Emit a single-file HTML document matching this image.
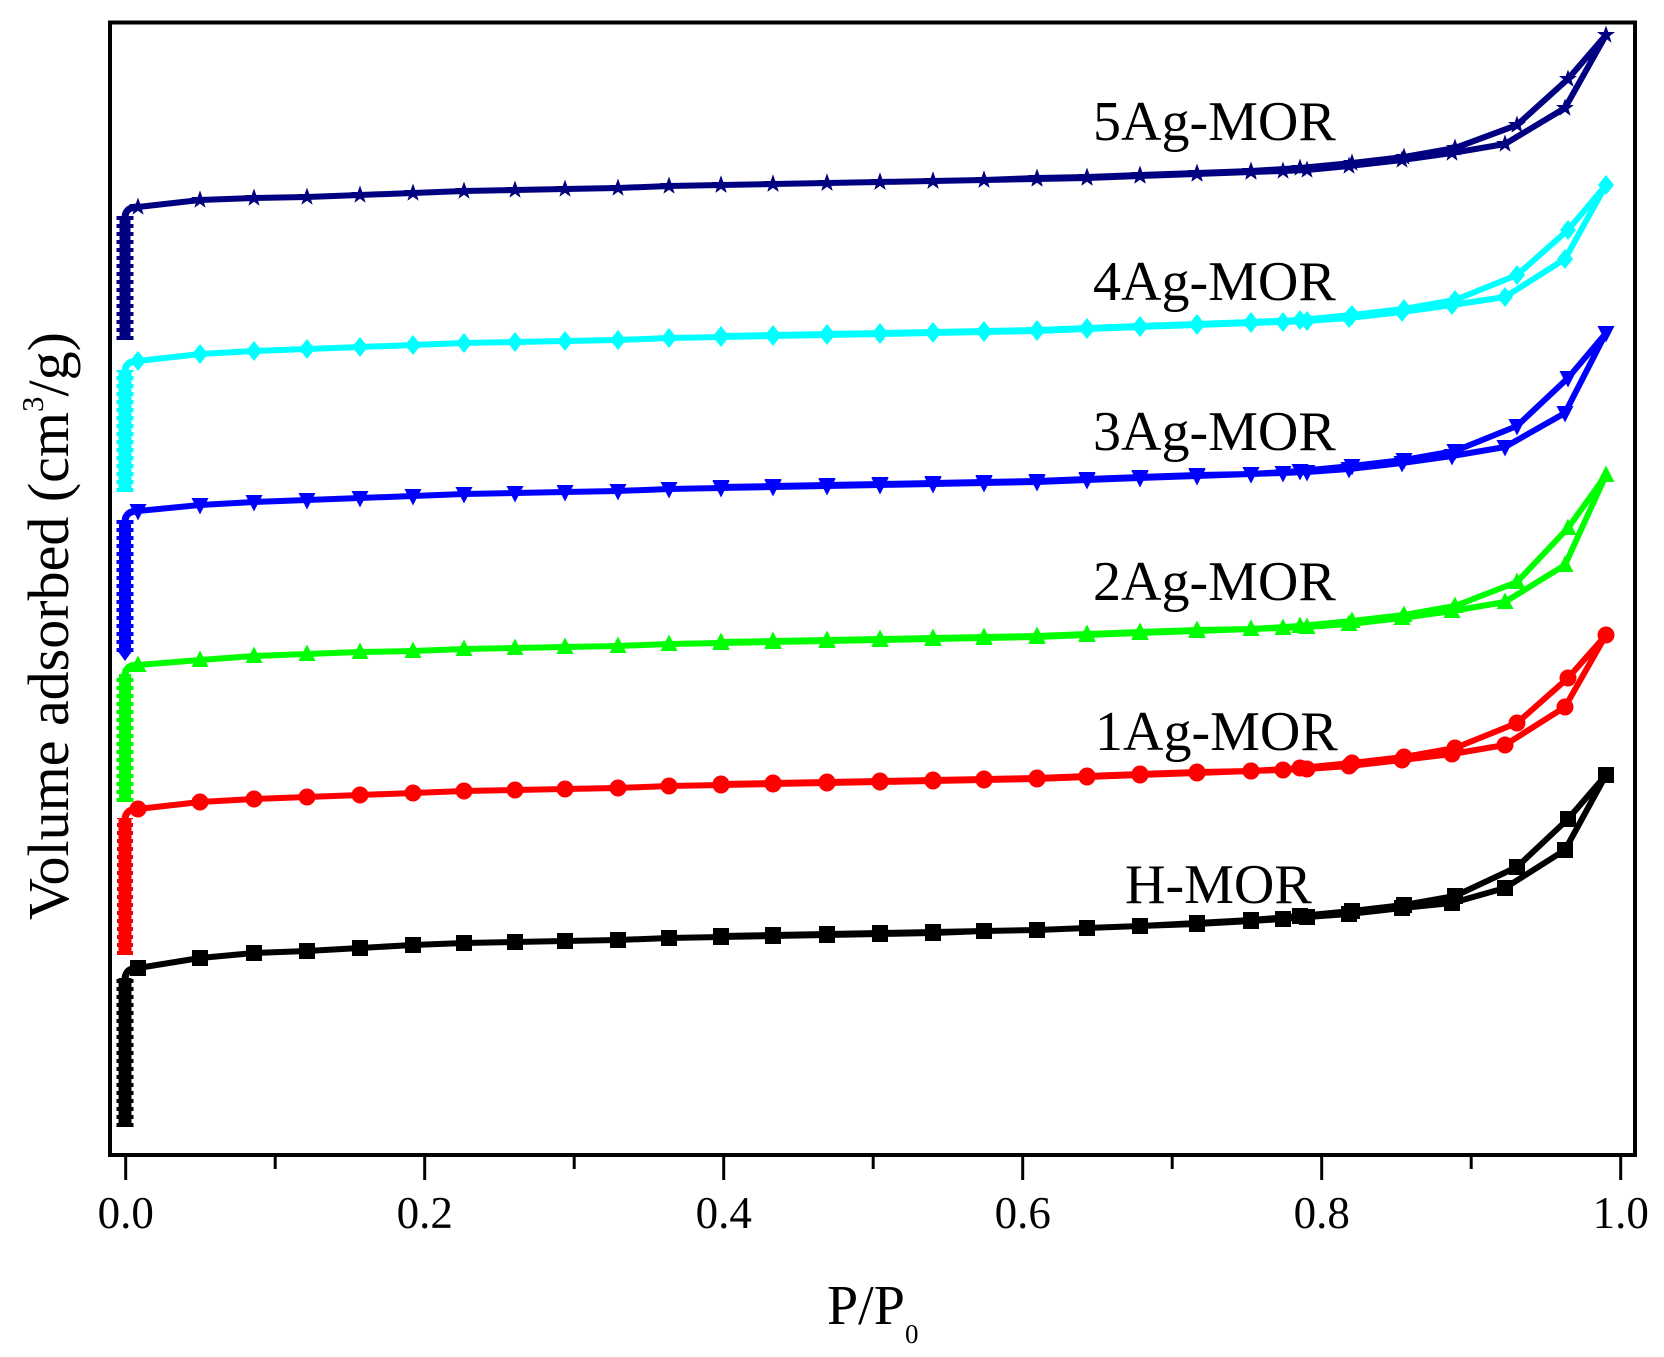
<!DOCTYPE html>
<html>
<head>
<meta charset="utf-8">
<style>
html,body{margin:0;padding:0;background:#fff;}
svg{display:block;}
text{font-family:"Liberation Serif","Times New Roman",serif;fill:#000;}
</style>
</head>
<body>
<svg width="1664" height="1357" viewBox="0 0 1664 1357" xmlns="http://www.w3.org/2000/svg">
<defs>
<marker id="mSq" markerUnits="userSpaceOnUse" markerWidth="16" markerHeight="16" refX="0" refY="0" overflow="visible"><rect x="-8" y="-8" width="16" height="16" fill="#000"/></marker>
<marker id="mCi" markerUnits="userSpaceOnUse" markerWidth="18" markerHeight="18" refX="0" refY="0" overflow="visible"><circle cx="0" cy="0" r="8.5" fill="#ff0000"/></marker>
<marker id="mTu" markerUnits="userSpaceOnUse" markerWidth="18" markerHeight="18" refX="0" refY="0" overflow="visible"><polygon points="0,-9.5 8.5,7 -8.5,7" fill="#00ff00"/></marker>
<marker id="mTd" markerUnits="userSpaceOnUse" markerWidth="18" markerHeight="18" refX="0" refY="0" overflow="visible"><polygon points="0,9.5 8.5,-7 -8.5,-7" fill="#0000ff"/></marker>
<marker id="mDi" markerUnits="userSpaceOnUse" markerWidth="18" markerHeight="18" refX="0" refY="0" overflow="visible"><polygon points="0,-10 8,0 0,10 -8,0" fill="#00ffff"/></marker>
<marker id="mSt" markerUnits="userSpaceOnUse" markerWidth="20" markerHeight="20" refX="0" refY="0" overflow="visible"><polygon points="0,-9.5 2.3,-3 9,-3 3.6,1.1 5.6,7.7 0,3.7 -5.6,7.7 -3.6,1.1 -9,-3 -2.3,-3" fill="#000080"/></marker>
</defs>

<!-- frame -->
<rect x="110" y="22.5" width="1525" height="1132.5" fill="none" stroke="#000" stroke-width="4"/>

<!-- ticks -->
<g stroke="#000" stroke-width="3">
<line x1="125.7" y1="1157" x2="125.7" y2="1180"/>
<line x1="275.2" y1="1157" x2="275.2" y2="1169"/>
<line x1="424.7" y1="1157" x2="424.7" y2="1180"/>
<line x1="574.2" y1="1157" x2="574.2" y2="1169"/>
<line x1="723.7" y1="1157" x2="723.7" y2="1180"/>
<line x1="873.2" y1="1157" x2="873.2" y2="1169"/>
<line x1="1022.7" y1="1157" x2="1022.7" y2="1180"/>
<line x1="1172.2" y1="1157" x2="1172.2" y2="1169"/>
<line x1="1321.7" y1="1157" x2="1321.7" y2="1180"/>
<line x1="1471.2" y1="1157" x2="1471.2" y2="1169"/>
<line x1="1620.7" y1="1157" x2="1620.7" y2="1180"/>
</g>

<!-- tick labels -->
<g font-size="45" text-anchor="middle">
<text x="125.7" y="1228">0.0</text>
<text x="424.7" y="1228">0.2</text>
<text x="723.7" y="1228">0.4</text>
<text x="1022.7" y="1228">0.6</text>
<text x="1321.7" y="1228">0.8</text>
<text x="1620.7" y="1228">1.0</text>
</g>

<!-- axis titles -->
<text x="827" y="1324" font-size="56">P/P</text>
<text x="905" y="1343" font-size="27">0</text>
<text transform="translate(68,626) rotate(-90)" font-size="58" text-anchor="middle">Volume adsorbed (cm<tspan font-size="31" dy="-25">3</tspan><tspan dy="25">/g)</tspan></text>

<!-- curve labels -->
<g font-size="56">
<text x="1093" y="140">5Ag-MOR</text>
<text x="1093" y="300">4Ag-MOR</text>
<text x="1093" y="450">3Ag-MOR</text>
<text x="1093" y="600">2Ag-MOR</text>
<text x="1095" y="750">1Ag-MOR</text>
<text x="1125" y="903">H-MOR</text>
</g>

<!-- H-MOR -->
<g stroke="#000" fill="none">
<line x1="125" y1="1127" x2="125" y2="978" stroke-width="13"/>
<line x1="125" y1="1127" x2="125" y2="978" stroke-width="17" stroke-dasharray="4 4"/>
<path d="M125,980 Q125,968 138,968" stroke-width="7"/>
<polyline stroke-width="6" stroke-linejoin="round" marker-start="url(#mSq)" marker-mid="url(#mSq)" marker-end="url(#mSq)" points="138,968 200,958 254,953 307,951 360,948 413,945 464,943 515,942 565,941 618,940 669,938 721,937 773,936 827,935 880,934 933,933 984,931 1037,930 1087,928 1140,926 1197,924 1251,921 1283,919 1307,917 1349,914 1402,908 1452,903 1505,888 1565,850 1606,775 1568,819 1517,867 1455,896 1404,905 1352,911 1300,916 1251,920 1197,923 1140,926 1087,928 1037,930 984,931 933,932 880,933 827,934 773,935 721,936"/>
</g>

<!-- 1Ag-MOR -->
<g stroke="#ff0000" fill="none">
<line x1="125" y1="955" x2="125" y2="818" stroke-width="13"/>
<line x1="125" y1="955" x2="125" y2="818" stroke-width="16" stroke-dasharray="4 4"/>
<path d="M125,820 Q125,809 138,809" stroke-width="7"/>
<polyline stroke-width="6" stroke-linejoin="round" marker-start="url(#mCi)" marker-mid="url(#mCi)" marker-end="url(#mCi)" points="138,809 200,802 254,799 307,797 360,795 413,793 464,791 515,790 565,789 618,788 669,786 721,785 773,784 827,783 880,782 933,781 984,780 1037,779 1087,777 1140,775 1197,773 1251,771 1283,770 1307,769 1349,766 1402,760 1452,754 1505,745 1565,707 1606,635 1568,678 1517,723 1455,748 1404,757 1352,763 1300,768 1251,771 1197,772 1140,774 1087,776 1037,778 984,779 933,780 880,781 827,782 773,783 721,784"/>
</g>

<!-- 2Ag-MOR -->
<g stroke="#00ff00" fill="none">
<line x1="125" y1="802" x2="125" y2="674" stroke-width="12"/>
<line x1="125" y1="802" x2="125" y2="674" stroke-width="17" stroke-dasharray="4 4"/>
<path d="M125,676 Q125,665 138,665" stroke-width="7"/>
<polyline stroke-width="6" stroke-linejoin="round" marker-start="url(#mTu)" marker-mid="url(#mTu)" marker-end="url(#mTu)" points="138,665 200,660 254,656 307,654 360,652 413,651 464,649 515,648 565,647 618,646 669,644 721,643 773,642 827,641 880,640 933,639 984,638 1037,637 1087,635 1140,633 1197,631 1251,629 1283,628 1307,627 1349,624 1402,618 1452,611 1505,602 1565,565 1606,475 1568,528 1517,582 1455,606 1404,615 1352,621 1300,626 1251,629 1197,630 1140,632 1087,634 1037,636 984,637 933,638 880,639 827,640 773,641 721,642"/>
</g>

<!-- 3Ag-MOR -->
<g stroke="#0000ff" fill="none">
<line x1="125" y1="652" x2="125" y2="520" stroke-width="12"/>
<line x1="125" y1="652" x2="125" y2="520" stroke-width="17" stroke-dasharray="4 4"/>
<polygon points="117,650 133,650 125,661" fill="#0000ff" stroke="none"/>
<path d="M125,522 Q125,511 138,511" stroke-width="7"/>
<polyline stroke-width="6" stroke-linejoin="round" marker-start="url(#mTd)" marker-mid="url(#mTd)" marker-end="url(#mTd)" points="138,511 200,505 254,502 307,500 360,498 413,496 464,494 515,493 565,492 618,491 669,489 721,488 773,487 827,486 880,485 933,484 984,483 1037,482 1087,480 1140,478 1197,476 1251,474 1283,473 1307,472 1349,469 1402,463 1452,456 1505,447 1565,413 1606,333 1568,378 1517,426 1455,451 1404,460 1352,466 1300,471 1251,474 1197,475 1140,477 1087,479 1037,481 984,482 933,483 880,484 827,485 773,486 721,487"/>
</g>

<!-- 4Ag-MOR -->
<g stroke="#00ffff" fill="none">
<line x1="125" y1="492" x2="125" y2="370" stroke-width="13"/>
<line x1="125" y1="492" x2="125" y2="370" stroke-width="17" stroke-dasharray="4 4"/>
<path d="M125,372 Q125,361 138,361" stroke-width="7"/>
<polyline stroke-width="6" stroke-linejoin="round" marker-start="url(#mDi)" marker-mid="url(#mDi)" marker-end="url(#mDi)" points="138,361 200,354 254,351 307,349 360,347 413,345 464,343 515,342 565,341 618,340 669,338 721,337 773,336 827,335 880,334 933,333 984,332 1037,331 1087,329 1140,327 1197,325 1251,323 1283,322 1307,321 1349,318 1402,312 1452,305 1505,297 1565,259 1606,185 1568,230 1517,275 1455,300 1404,309 1352,315 1300,320 1251,322 1197,324 1140,326 1087,328 1037,330 984,331 933,332 880,333 827,334 773,335 721,336"/>
</g>

<!-- 5Ag-MOR -->
<g stroke="#000080" fill="none">
<line x1="125" y1="340" x2="125" y2="216" stroke-width="11"/>
<line x1="125" y1="340" x2="125" y2="216" stroke-width="17" stroke-dasharray="4 4"/>
<path d="M125,218 Q125,207 138,207" stroke-width="7"/>
<polyline stroke-width="6" stroke-linejoin="round" marker-start="url(#mSt)" marker-mid="url(#mSt)" marker-end="url(#mSt)" points="138,207 200,200 254,198 307,197 360,195 413,193 464,191 515,190 565,189 618,188 669,186 721,185 773,184 827,183 880,182 933,181 984,180 1037,179 1087,178 1140,176 1197,174 1251,172 1283,171 1307,170 1349,166 1402,160 1452,153 1505,144 1565,108 1606,35 1568,79 1517,125 1455,148 1404,157 1352,163 1300,168 1251,171 1197,173 1140,175 1087,177 1037,178 984,180 933,181 880,182 827,183 773,184 721,185"/>
</g>
</svg>
</body>
</html>
